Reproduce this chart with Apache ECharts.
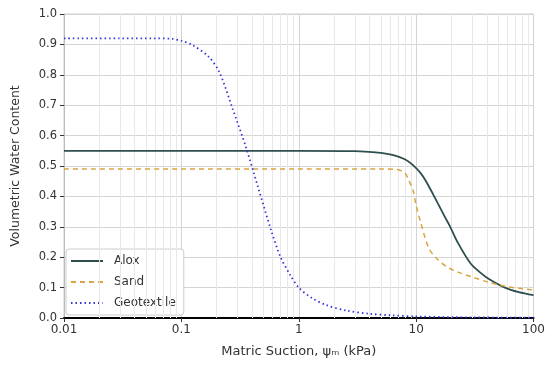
<!DOCTYPE html>
<html>
<head>
<meta charset="utf-8">
<script src="https://cdn.jsdelivr.net/npm/echarts@6/dist/echarts.min.js"></script>
<style>
  html, body { margin: 0; padding: 0; background: #fff; }
  #chart { width: 548px; height: 371px; }
</style>
</head>
<body>
<div id="chart"></div>
<script>
// Soil-water characteristic curves: suction (kPa) vs volumetric water content
const seriesNames = ['Alox', 'Sand', 'Geotextile'];

const aloxSuction = [0.01, 0.1, 1, 3, 4.5, 6.4, 8, 9.4, 11, 12.2, 14.8, 17.6, 19.5, 22.7, 29, 35, 41, 57, 75, 100];
const aloxTheta   = [0.55, 0.55, 0.55, 0.549, 0.545, 0.536, 0.522, 0.503, 0.475, 0.448, 0.388, 0.332, 0.30, 0.247, 0.18, 0.15, 0.13, 0.10, 0.085, 0.075];

const sandSuction = [0.01, 0.1, 1, 5, 7, 8, 8.5, 9.4, 10, 11, 12, 13, 15, 18, 23, 30, 41, 60, 100];
const sandTheta   = [0.49, 0.49, 0.49, 0.49, 0.488, 0.478, 0.46, 0.42, 0.37, 0.31, 0.26, 0.225, 0.195, 0.17, 0.15, 0.135, 0.118, 0.103, 0.092];

const geoSuction = [0.01, 0.03, 0.06, 0.084, 0.1, 0.124, 0.17, 0.21, 0.27, 0.356, 0.45, 0.58, 0.7, 0.85, 1.0, 1.3, 1.7, 2.5, 4, 6, 10, 30, 100];
const geoTheta   = [0.92, 0.92, 0.92, 0.918, 0.912, 0.898, 0.86, 0.81, 0.694, 0.56, 0.43, 0.29, 0.20, 0.14, 0.10, 0.065, 0.043, 0.025, 0.014, 0.009, 0.005, 0.002, 0.001];

const xTicks = [0.01, 0.1, 1, 10, 100];
// minor grid positions within each decade
const xMinor = [];
for (let d = 0; d < xTicks.length - 1; d++) {
  for (let m = 2; m <= 9; m++) xMinor.push(+(xTicks[d] * m).toPrecision(3));
}

const pairs = (xs, ys) => xs.map((x, i) => [x, ys[i]]);

const chart = echarts.init(document.getElementById('chart'), null, { renderer: 'canvas' });

const curve = (name, xs, ys, color, width, type) => ({
  name,
  type: 'line',
  data: pairs(xs, ys),
  smooth: 0.3,
  symbol: 'none',
  z: 5,
  color,
  lineStyle: { color, width, type }
});

chart.setOption({
  animation: false,
  backgroundColor: '#ffffff',
  textStyle: { fontFamily: 'DejaVu Sans' },
  grid: { left: 64, right: 12, top: 14, bottom: 53, show: true, borderColor: '#cccccc', borderWidth: 1 },
  xAxis: {
    type: 'log',
    logBase: 10,
    min: 0.01,
    max: 100,
    name: 'Matric Suction, ψ\u2098 (kPa)',
    nameLocation: 'middle',
    nameGap: 27,
    nameTextStyle: { fontSize: 13, color: '#333', fontFamily: 'DejaVu Sans' },
    axisLine: { show: true, onZero: false, lineStyle: { color: '#000', width: 2 } },
    axisTick: { show: true, inside: false, length: 4, lineStyle: { color: '#333' } },
    axisLabel: {
      fontSize: 12, color: '#333', margin: 6, fontFamily: 'DejaVu Sans',
      formatter: v => {
        const r = +v.toPrecision(3);
        return xTicks.includes(r) ? String(r) : '';
      }
    },
    splitLine: { show: true, lineStyle: { color: '#d4d4d4', width: 1 } }
  },
  yAxis: {
    type: 'value',
    min: 0,
    max: 1,
    interval: 0.1,
    name: 'Volumetric Water Content',
    nameLocation: 'middle',
    nameGap: 42,
    nameTextStyle: { fontSize: 12.5, color: '#333', fontFamily: 'DejaVu Sans' },
    axisLine: { show: true, lineStyle: { color: '#bbbbbb', width: 1 } },
    axisTick: { show: true, inside: false, length: 4, lineStyle: { color: '#333' } },
    axisLabel: { fontSize: 11.5, color: '#333', margin: 7, fontFamily: 'DejaVu Sans', formatter: v => v.toFixed(1) },
    splitLine: { show: true, lineStyle: { color: '#d4d4d4', width: 1 } }
  },
  legend: {
    orient: 'vertical',
    left: 66,
    top: 249,
    itemWidth: 32,
    itemHeight: 10,
    itemGap: 9,
    padding: [6, 8, 6, 4],
    backgroundColor: '#ffffff',
    borderColor: '#cccccc',
    borderWidth: 1,
    borderRadius: 3,
    itemStyle: { opacity: 0 },
    textStyle: { fontSize: 12, color: '#333', padding: [0, 0, 0, 6], fontFamily: 'DejaVu Sans' },
    data: seriesNames
  },
  series: [
    {
      name: 'minor-grid',
      type: 'line',
      data: [],
      silent: true,
      z: 1,
      markLine: {
        silent: true,
        symbol: 'none',
        label: { show: false },
        lineStyle: { color: '#e8e8e8', width: 1, type: 'solid' },
        data: xMinor.map(v => ({ xAxis: v }))
      }
    },
    curve(seriesNames[0], aloxSuction, aloxTheta, '#2f4f4f', 1.8, 'solid'),
    curve(seriesNames[1], sandSuction, sandTheta, '#d9a441', 1.5, [5, 4]),
    curve(seriesNames[2], geoSuction, geoTheta, '#3535d8', 1.8, [1.5, 3])
  ]
});
</script>
</body>
</html>
